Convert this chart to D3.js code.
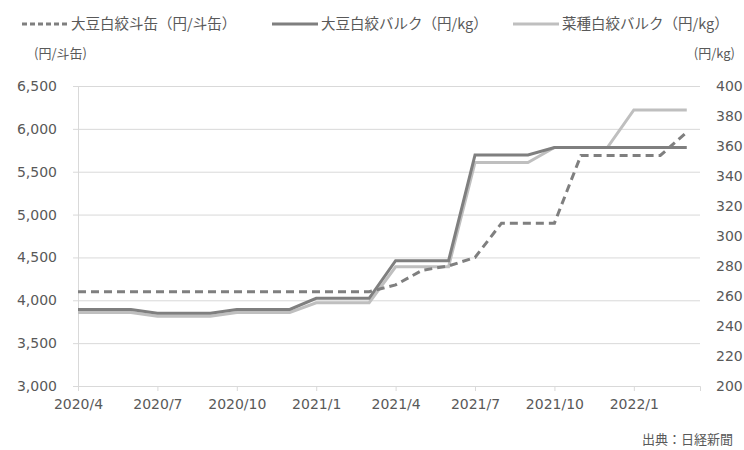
<!DOCTYPE html>
<html>
<head>
<meta charset="utf-8">
<script src="https://cdn.jsdelivr.net/npm/d3@7"></script>
<style>
  body { margin: 0; background: #fff; }
  text { fill: #595959; }
</style>
</head>
<body>
<div id="chart"></div>
<script>
// months 2020/4 .. 2022/3
var months = ["2020/4","2020/5","2020/6","2020/7","2020/8","2020/9","2020/10","2020/11","2020/12",
  "2021/1","2021/2","2021/3","2021/4","2021/5","2021/6","2021/7","2021/8","2021/9","2021/10",
  "2021/11","2021/12","2022/1","2022/2","2022/3"];
var tickMonths = ["2020/4","2020/7","2020/10","2021/1","2021/4","2021/7","2021/10","2022/1"];

// 大豆白絞斗缶 (円/斗缶) - left axis
var soyCan = [4100,4100,4100,4100,4100,4100,4100,4100,4100,4100,4100,4100,
  4180,4350,4400,4500,4900,4900,4900,5690,5690,5690,5690,5960];
// 大豆白絞バルク (円/kg) - right axis
var soyBulk = [251,251,251,248.5,248.5,248.5,251,251,251,258.5,258.5,258.5,
  283.5,283.5,283.5,354,354,354,359,359,359,359,359,359];
// 菜種白絞バルク (円/kg) - right axis
var rapeBulk = [249,249,249,246.5,246.5,246.5,249,249,249,255.5,255.5,255.5,
  279.5,279.5,279.5,349,349,349,359,359,359,384,384,384];

var leftTicks = [3000,3500,4000,4500,5000,5500,6000,6500];
var rightTicks = [200,220,240,260,280,300,320,340,360,380,400];

var width = 744, height = 450;
var x0 = 78, x1 = 700, yTop = 86, yBot = 386;
var numFont = "'DejaVu Sans', Verdana, sans-serif";
var cjk = "'Noto Sans CJK JP', sans-serif";

var svg = d3.select("#chart").append("svg")
  .attr("width", width).attr("height", height);

var x = d3.scaleLinear().domain([0, 23.5]).range([x0, x1]);
var yL = d3.scaleLinear().domain([3000, 6500]).range([yBot, yTop]);
var yR = d3.scaleLinear().domain([200, 400]).range([yBot, yTop]);

function styleText(g) {
  g.selectAll("text").style("font-family", numFont).style("font-size", "14px")
    .attr("fill", "#595959");
}

// gridlines + left labels
var leftAxis = svg.append("g").attr("transform", "translate(" + x0 + ",0)")
  .call(d3.axisLeft(yL).tickValues(leftTicks).tickSize(5).tickPadding(16)
    .tickFormat(d3.format(",")));
leftAxis.select(".domain").attr("stroke", "#d9d9d9");
leftAxis.selectAll(".tick line").attr("stroke", "#d9d9d9");
leftAxis.selectAll(".tick").append("line")
  .attr("x1", 0).attr("x2", x1 - x0).attr("stroke", "#d9d9d9");
styleText(leftAxis);

var rightAxis = svg.append("g").attr("transform", "translate(" + x1 + ",0)")
  .call(d3.axisRight(yR).tickValues(rightTicks).tickSize(0).tickPadding(16));
rightAxis.select(".domain").remove();
styleText(rightAxis);

var xAxis = svg.append("g").attr("transform", "translate(0," + yBot + ")")
  .call(d3.axisBottom(x)
    .tickValues(tickMonths.map(function (m) { return months.indexOf(m); }))
    .tickFormat(function (i) { return months[i]; })
    .tickSize(5).tickPadding(8));
xAxis.select(".domain").attr("stroke", "#d9d9d9");
xAxis.selectAll(".tick line").attr("stroke", "#d9d9d9");
styleText(xAxis);

var lineL = d3.line().x(function (d, i) { return x(i); }).y(function (d) { return yL(d); });
var lineR = d3.line().x(function (d, i) { return x(i); }).y(function (d) { return yR(d); });

svg.append("path").datum(rapeBulk).attr("d", lineR)
  .attr("fill", "none").attr("stroke", "#bfbfbf").attr("stroke-width", 3);
svg.append("path").datum(soyBulk).attr("d", lineR)
  .attr("fill", "none").attr("stroke", "#7f7f7f").attr("stroke-width", 3);
svg.append("path").datum(soyCan).attr("d", lineL)
  .attr("fill", "none").attr("stroke", "#7f7f7f").attr("stroke-width", 3)
  .attr("stroke-dasharray", "8,5");

// legend
var legend = [
  { label: "大豆白絞斗缶（円/斗缶）", color: "#7f7f7f", dash: "5,3", x: 22 },
  { label: "大豆白絞バルク（円/kg）", color: "#7f7f7f", dash: null, x: 272 },
  { label: "菜種白絞バルク（円/kg）", color: "#bfbfbf", dash: null, x: 513 }
];
var lg = svg.append("g").style("font-family", cjk);
legend.forEach(function (d) {
  lg.append("line").attr("x1", d.x).attr("x2", d.x + 46).attr("y1", 24).attr("y2", 24)
    .attr("stroke", d.color).attr("stroke-width", 3)
    .attr("stroke-dasharray", d.dash);
  lg.append("text").attr("x", d.x + 49).attr("y", 24).attr("dy", "0.35em")
    .style("font-size", "14.5px").text(d.label);
});

svg.append("text").attr("x", 34).attr("y", 58).style("font-family", cjk)
  .style("font-size", "13px").text("(円/斗缶)");
svg.append("text").attr("x", 735).attr("y", 58).attr("text-anchor", "end")
  .style("font-family", cjk).style("font-size", "13px").text("(円/kg)");
svg.append("text").attr("x", 733).attr("y", 444).attr("text-anchor", "end")
  .style("font-family", cjk).style("font-size", "13px").text("出典：日経新聞");
</script>
</body>
</html>
